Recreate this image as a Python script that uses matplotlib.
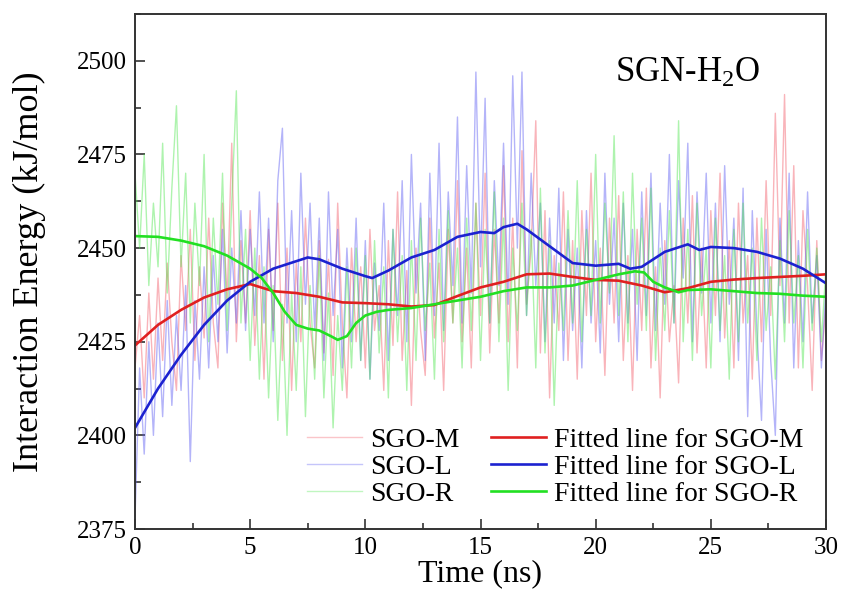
import numpy as np
import matplotlib
matplotlib.use("Agg")
import matplotlib.pyplot as plt
from matplotlib.ticker import MultipleLocator

plt.rcParams['font.family'] = ['Liberation Serif', 'DejaVu Serif']
plt.rcParams['mathtext.fontset'] = 'custom'
plt.rcParams['mathtext.rm'] = 'Liberation Serif'
plt.rcParams['mathtext.default'] = 'regular'

# ---------------- data ----------------
sgo_m = [2418, 2432, 2410, 2438, 2415, 2442, 2420, 2446, 2425, 2412,
         2448, 2428, 2455, 2420, 2445, 2426, 2458, 2430, 2418, 2462,
         2436, 2478, 2425, 2452, 2430, 2460, 2424, 2448, 2415, 2455,
         2428, 2462, 2420, 2450, 2412, 2446, 2425, 2458, 2430, 2418,
         2452, 2422, 2447, 2416, 2462, 2430, 2410, 2450, 2425, 2445,
         2418, 2455, 2428, 2440, 2412, 2452, 2424, 2465, 2420, 2444,
         2408, 2450, 2428, 2416, 2458, 2426, 2446, 2412, 2455, 2430,
         2468, 2425, 2450, 2418, 2462, 2432, 2470, 2422, 2455, 2430,
         2472, 2425, 2458, 2418, 2476, 2435, 2450, 2484, 2422, 2460,
         2410, 2448, 2428, 2465, 2420, 2452, 2415, 2460, 2432, 2470,
         2425, 2450, 2416, 2458, 2430, 2464, 2420, 2448, 2412, 2455,
         2428, 2466, 2418, 2445, 2410, 2452, 2425, 2440, 2414, 2458,
         2430, 2464, 2422, 2450, 2418, 2460, 2432, 2470, 2426, 2452,
         2418, 2462, 2430, 2448, 2415, 2458, 2425, 2468, 2432, 2486,
         2440, 2491, 2430, 2472, 2418, 2460, 2440, 2412, 2452, 2420,
         2435]

sgo_l = [2378, 2418, 2395, 2425, 2400, 2430, 2405, 2436, 2408, 2432,
         2412, 2440, 2393, 2436, 2415, 2445, 2418, 2448, 2425, 2455,
         2422, 2450, 2430, 2460, 2428, 2455, 2432, 2465, 2430, 2458,
         2425, 2468, 2482, 2430, 2460, 2425, 2470, 2435, 2462, 2428,
         2458, 2420, 2465, 2432, 2455, 2418, 2450, 2425, 2458, 2420,
         2452, 2415, 2446, 2428, 2462, 2420, 2455, 2432, 2468, 2425,
         2475, 2438, 2462, 2420, 2470, 2432, 2478, 2428, 2465, 2440,
         2485, 2430, 2472, 2438, 2497, 2445, 2490, 2430, 2468, 2440,
         2478, 2435, 2496, 2450, 2497, 2432, 2470, 2440, 2462, 2425,
         2458, 2430, 2466, 2420, 2455, 2428, 2450, 2418, 2460, 2430,
         2452, 2422, 2470, 2435, 2458, 2425, 2462, 2430, 2455, 2420,
         2465, 2432, 2470, 2428, 2462, 2435, 2475, 2430, 2468, 2442,
         2478, 2425, 2465, 2438, 2470, 2430, 2462, 2425, 2472, 2435,
         2458, 2420, 2466, 2405, 2460, 2428, 2404, 2455, 2420, 2400,
         2458, 2430, 2470, 2418, 2452, 2425, 2465, 2430, 2448, 2418,
         2440]

sgo_r = [2470, 2450, 2475, 2440, 2462, 2445, 2478, 2438, 2466, 2488,
         2445, 2470, 2430, 2462, 2440, 2475, 2425, 2458, 2435, 2470,
         2428, 2462, 2492, 2430, 2455, 2420, 2450, 2415, 2445, 2410,
         2440, 2404, 2435, 2400, 2438, 2412, 2445, 2405, 2440, 2415,
         2448, 2410, 2438, 2402, 2432, 2412, 2445, 2418, 2450, 2420,
         2448, 2415, 2452, 2422, 2445, 2410, 2455, 2425, 2448, 2412,
         2452, 2420, 2458, 2428, 2446, 2415, 2455, 2425, 2460, 2430,
         2450, 2418, 2458, 2428, 2462, 2420, 2455, 2430, 2465, 2425,
         2458, 2412, 2450, 2428, 2462, 2432, 2455, 2418, 2466, 2422,
         2452, 2408, 2446, 2428, 2460, 2430, 2468, 2425, 2455, 2432,
         2475, 2430, 2462, 2438, 2480, 2432, 2465, 2425, 2470, 2435,
         2458, 2428, 2466, 2420, 2450, 2428, 2460, 2430, 2484, 2425,
         2455, 2420, 2462, 2432, 2450, 2418, 2458, 2428, 2448, 2415,
         2455, 2425, 2462, 2430, 2450, 2420, 2458, 2428, 2445, 2415,
         2452, 2425, 2460, 2430, 2448, 2418, 2455, 2428, 2450, 2425,
         2445]

fit_m_t = [0, 1, 2, 3, 4, 5, 6, 7, 8, 9, 10, 11, 12, 13, 14, 15, 16, 17, 18,
           19, 20, 21, 22, 23, 24, 25, 26, 27, 28, 29, 30]
fit_m_v = [2424, 2429.5, 2433.5, 2436.8, 2439, 2440.4, 2438.5, 2438, 2437,
           2435.5, 2435.3, 2435, 2434.4, 2434.8, 2437.2, 2439.5, 2441, 2443,
           2443.2, 2442.3, 2441.5, 2441.3, 2440, 2438.2, 2439.3, 2441,
           2441.6, 2442, 2442.3, 2442.6, 2443]

fit_l_t = [0, 1, 2, 3, 4, 5, 6, 7, 7.5, 8, 9, 10, 10.3, 11, 12, 13, 14, 15,
           15.6, 16, 16.6, 17, 18, 19, 20, 21, 21.5, 22, 23, 24, 24.5, 25,
           26, 27, 28, 29, 30]
fit_l_v = [2402, 2412.5, 2421.5, 2429.5, 2436, 2441, 2444.5, 2446.5, 2447.5,
           2447, 2444.5, 2442.5, 2442, 2444, 2447.5, 2449.5, 2453, 2454.3,
           2454, 2455.6, 2456.5, 2455, 2450.5, 2446, 2445.3, 2445.8, 2444.5,
           2445, 2449, 2451, 2449.5, 2450.3, 2450, 2449, 2447.2, 2444.5,
           2440.6]

fit_r_t = [0, 1, 2, 3, 4, 5, 5.5, 6, 6.5, 7, 7.5, 8, 8.5, 8.8, 9.2, 9.6, 10,
           10.5, 11, 12, 13, 14, 15, 16, 17, 18, 19, 20, 21, 21.7, 22.1,
           22.5, 23, 23.6, 24, 25, 26, 27, 28, 29, 30]
fit_r_v = [2453.2, 2453, 2452, 2450.5, 2448, 2444.5, 2442, 2438, 2433,
           2429.5, 2428.5, 2428, 2426.5, 2425.5, 2426.5, 2430, 2432, 2433,
           2433.5, 2434, 2435, 2436, 2437, 2438.5, 2439.5, 2439.5, 2440,
           2441.5, 2443, 2443.8, 2443.5, 2441, 2439.5, 2438.2, 2438.8,
           2439, 2438.5, 2438, 2437.8, 2437.3, 2437]

x_ticks = [0, 5, 10, 15, 20, 25, 30]
y_ticks = [2375, 2400, 2425, 2450, 2475, 2500]

# ---------------- figure ----------------
fig = plt.figure(figsize=(8.44, 5.99), dpi=100)
ax = fig.add_axes([135 / 844, 70 / 599, 691 / 844, 515 / 599])

t_raw = np.linspace(0, 30, len(sgo_m))
raw_alpha = 0.45

ax.plot(t_raw, sgo_m, color=(0.95, 0.35, 0.4), alpha=raw_alpha, lw=1.0, label='SGO-M')
ax.plot(t_raw, sgo_l, color=(0.35, 0.35, 0.95), alpha=raw_alpha, lw=1.0, label='SGO-L')
ax.plot(t_raw, sgo_r, color=(0.3, 0.9, 0.3), alpha=raw_alpha, lw=1.0, label='SGO-R')

ax.plot(fit_m_t, fit_m_v, color='#e02020', lw=1.9, label='Fitted line for SGO-M')
ax.plot(fit_l_t, fit_l_v, color='#1c22d0', lw=1.9, label='Fitted line for SGO-L')
ax.plot(fit_r_t, fit_r_v, color='#22e022', lw=1.9, label='Fitted line for SGO-R')

ax.set_xlim(0, 30)
ax.set_ylim(2375, 2512.5)
ax.set_xticks(x_ticks)
ax.set_yticks(y_ticks)
ax.xaxis.set_minor_locator(MultipleLocator(2.5))
ax.yaxis.set_minor_locator(MultipleLocator(12.5))
ax.tick_params(which='both', direction='in', top=False, right=False,
               labelsize=18, color='#333333', width=1.2)
ax.tick_params(which='major', length=7, pad=6)
ax.tick_params(which='minor', length=4)
for s in ax.spines.values():
    s.set_color('#333333')
    s.set_linewidth(1.4)

ax.set_xlabel('Time (ns)', fontsize=23, labelpad=0)
ax.set_ylabel('Interaction Energy (kJ/mol)', fontsize=26, labelpad=22)

ax.text(0.80, 0.885, 'SGN-H$_2$O', transform=ax.transAxes, fontsize=25,
        ha='center', va='center')

leg = ax.legend(ncol=2, loc='lower right', frameon=False, fontsize=20,
                handlelength=2.0, handletextpad=0.3, columnspacing=1.1,
                labelspacing=0.05, borderaxespad=0.4)
for h in leg.get_lines()[:3]:
    h.set_alpha(0.35)

fig.savefig('out.png', dpi=100)
